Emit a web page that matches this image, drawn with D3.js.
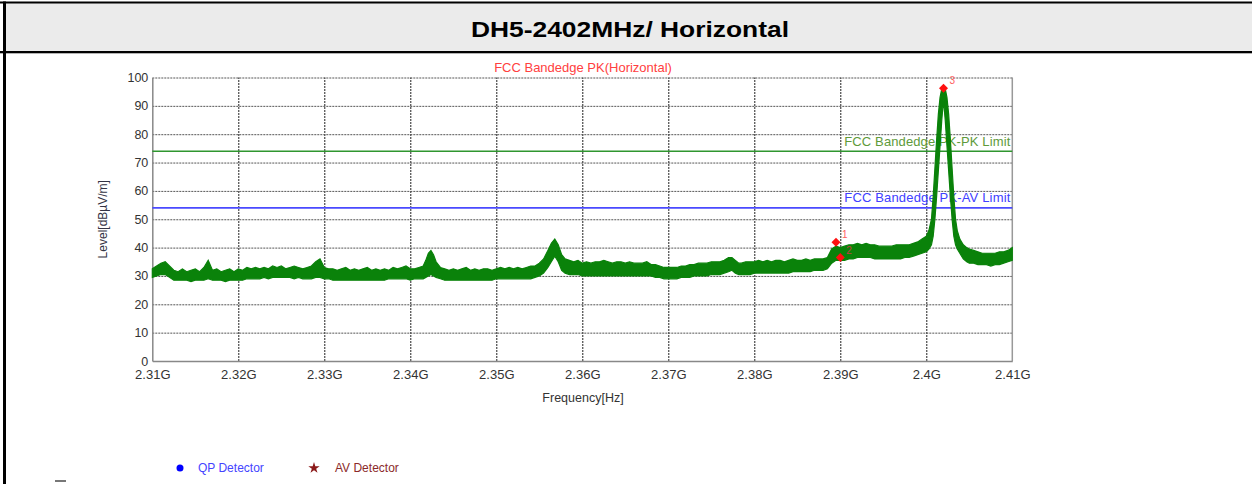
<!DOCTYPE html>
<html><head><meta charset="utf-8">
<script src="https://cdn.jsdelivr.net/npm/d3@7"></script>
<style>
html,body{margin:0;padding:0;background:#fff;}
svg{display:block;font-family:Arial,"Liberation Sans",sans-serif;}
</style></head><body>
<svg id="c" width="1252" height="484"></svg>
<script>
// ---- data ----
const pageTitle = "DH5-2402MHz/ Horizontal";
const chartTitle = "FCC Bandedge PK(Horizontal)";
const xTickValues = [2310,2320,2330,2340,2350,2360,2370,2380,2390,2400,2410];
const xTickLabels = ["2.31G","2.32G","2.33G","2.34G","2.35G","2.36G","2.37G","2.38G","2.39G","2.4G","2.41G"];
const yTickValues = [0,10,20,30,40,50,60,70,80,90,100];
const limitNames = ["FCC Bandedge PK-PK Limit","FCC Bandedge PK-AV Limit"];
const limitLevels = [74, 54];
const markerLabels = ["1","2","3"];
const markerFreqMHz = [2389.5, 2390.0, 2402.0];
const markerLevel = [41.9, 36.5, 96.2];
const legendNames = ["QP Detector","AV Detector"];

// trace envelope (frequency MHz, upper / lower level dBuV/m)
const freqMHz = [
2310,2310.5,2311,2311.5,2312,2312.5,2313,2313.5,2314,2314.5,2315,2315.5,2316,2316.5,2317,2317.5,2318,2318.5,2319,2319.5,
2320,2320.5,2321,2321.5,2322,2322.5,2323,2323.5,2324,2324.5,2325,2325.5,2326,2326.5,2327,2327.5,2328,2328.5,2329,2329.5,
2330,2330.5,2331,2331.5,2332,2332.5,2333,2333.5,2334,2334.5,2335,2335.5,2336,2336.5,2337,2337.5,2338,2338.5,2339,2339.5,
2340,2340.5,2341,2341.5,2341.8,2342.1,2342.4,2342.7,2343,2343.5,2344,2344.5,2345,2345.5,2346,2346.5,2347,2347.5,2348,2348.5,2349,2349.5,
2350,2350.5,2351,2351.5,2352,2352.5,2353,2353.5,2354,2354.5,2355,2355.5,2356,2356.4,2356.8,2357.2,2357.6,2358,2358.5,2359,2359.5,
2360,2360.5,2361,2361.5,2362,2362.5,2363,2363.5,2364,2364.5,2365,2365.5,2366,2366.5,2367,2367.5,2368,2368.5,2369,2369.5,
2370,2370.5,2371,2371.5,2372,2372.5,2373,2373.5,2374,2374.5,2375,2375.5,2376,2376.5,2377,2377.4,2377.8,2378.2,2378.5,2379,2379.5,
2380,2380.5,2381,2381.5,2382,2382.5,2383,2383.5,2384,2384.5,2385,2385.5,2386,2386.5,2387,2387.5,2388,2388.5,2389,2389.5,
2390,2390.5,2391,2391.5,2392,2392.5,2393,2393.5,2394,2394.5,2395,2395.5,2396,2396.5,2397,2397.5,2398,2398.5,2399,2399.5,
2400,2400.3,2400.6,2400.8,2401,2401.2,2401.4,2401.6,2401.8,2402,2402.2,2402.4,2402.6,2402.8,2403,2403.2,2403.4,2403.6,2403.9,2404.3,
2404.7,2405,2405.5,2406,2406.5,2407,2407.5,2408,2408.5,2409,2409.5,2410];
const upperLevel = [
32.5,33.5,34.5,35,33.5,32,31.5,32.5,31.5,32,32.5,31.5,33,35.5,32,32.5,31.5,32,32.5,31.5,
32.5,32,33,32.5,33,32.5,33,32.5,33.5,33,33.5,32.5,33,33.5,33,32.5,33,33.5,35,36,
33,32.5,32.5,32,32.5,33,32,32.5,32,32.5,33,32,32.5,32,32.5,32,33,32.5,33,33.5,
32.5,32.5,33,33.5,35.5,38,39,37.5,35,33,32.5,32,32.5,32,32.5,33,32,32.5,32,32.5,32.5,32,
32.5,33,32.5,33,32.5,33,32.5,33,33.5,33.5,34.5,36,39,41.5,43,41,37.5,36,35.5,35,35.5,
34.5,35,34.5,35,35,35.5,35,34.5,35,35,34.5,35,34.5,34.5,34.5,35,34,34,33.5,33,
33,33,33,33.5,33.5,34,34,34.5,34.5,34.5,35,35,35,35.5,36.5,36.5,35.5,34.5,34.5,35,35,
35,35.5,35,35.5,35,35.5,35.5,35,35.5,36,35.5,35.5,36,35.5,36,36,36,36.5,39.5,40.5,
40,40.5,41,41,41.5,41,41.5,41,41,40.5,40.5,40.5,40.5,41,41,41,41,41.5,42,43,
44,46,50,58,68,78,87,93,96,96.5,96,93,87,78,68,58,50,46,43,41,
40,39.5,39,38.5,38,38,38,38,38.5,38.5,39,40];
const lowerLevel = [
29.5,30,30.5,30.5,29.5,28.5,28.5,28.5,28.5,28,28.5,28.5,28.5,29,28.5,28.5,28.5,28,28.5,28.5,
28.5,28.5,29,29,29,29,29.5,29,29.5,29.5,29.5,29.5,29.5,29,29.5,29,29,29,29.5,29.5,
29,29,28.5,28.5,28.5,28.5,28.5,28.5,28.5,28.5,28.5,28.5,28.5,28.5,28.5,29,29,29,29,29,
28.5,29,29,29,29.5,30,30.5,30,29.5,29,28.5,28.5,28.5,28.5,28.5,28.5,28.5,28.5,28.5,28.5,28.5,28.5,
29,29,29,29,29,29,29,29,29,29.5,30,31,33,35,37,35,32,31,30.5,30.5,30.5,
30,30,30,30,30,30,30,30,30,30,30,30,30,30,30,30,30,29.5,29.5,29,
29,29,29,29.5,29.5,29.5,30,30,30,30,30.5,30.5,30.5,31,31.5,32,31,30.5,30.5,30.5,30.5,
31,31,31,31,31,31,31,31,31,31.5,31.5,31.5,31.5,31.5,32,32,32,32.5,34.5,35.5,
35.5,35.5,36,36,36.5,36.5,36.5,36.5,36,36,36,36,36,36,36,36.5,36.5,37,37.5,38,
38.5,39.5,41,44,50,58,67,76,85,92,85,76,67,58,50,44,41,39.5,38,36,
35,34.5,34.5,34,34,34,33.5,34,34,34.5,35,35.5];

// ---- layout ----
const W = 1252, H = 484;
const svg = d3.select("#c");
const x = d3.scaleLinear().domain([2310, 2410]).range([152.3, 1012.3]);
const y = d3.scaleLinear().domain([0, 100]).range([361, 77.5]);
const x0 = x.range()[0], x1 = x.range()[1], yTop = y(100), yBot = y(0);

// page frame + title band
svg.append("rect").attr("x",0).attr("y",0).attr("width",W).attr("height",H).attr("fill","#fff");
svg.append("rect").attr("x",3).attr("y",3).attr("width",W-3).attr("height",48).attr("fill","#ebebeb");
svg.append("rect").attr("x",0).attr("y",1.5).attr("width",W).attr("height",2).attr("fill","#000");
svg.append("rect").attr("x",0).attr("y",51).attr("width",W).attr("height",2.3).attr("fill","#000");
svg.append("rect").attr("x",3).attr("y",1.5).attr("width",3).attr("height",H).attr("fill","#000");
svg.append("text").attr("x",630).attr("y",37).attr("text-anchor","middle")
  .attr("font-size",22).attr("font-weight","bold").attr("fill","#000")
  .attr("textLength",318).attr("lengthAdjust","spacingAndGlyphs").text(pageTitle);

// grid
const g = svg.append("g");
g.append("g").attr("transform",`translate(0,${yBot})`)
  .call(d3.axisBottom(x).tickValues(xTickValues.slice(1,-1)).tickSize(-(yBot-yTop)).tickFormat(""))
  .call(s=>{s.select(".domain").remove(); s.selectAll("line").attr("stroke","#222").attr("stroke-dasharray","2,1");});
g.append("g").attr("transform",`translate(${x0},0)`)
  .call(d3.axisLeft(y).tickValues(yTickValues.slice(1)).tickSize(-(x1-x0)).tickFormat(""))
  .call(s=>{s.select(".domain").remove(); s.selectAll("line").attr("stroke","#555").attr("stroke-dasharray","2,1");});

// plot frame
g.append("line").attr("x1",x1).attr("x2",x1).attr("y1",yTop).attr("y2",yBot).attr("stroke","#999").attr("stroke-width",1.5);

// axes labels
const yAxis = g.append("g").attr("transform",`translate(${x0},0)`)
  .call(d3.axisLeft(y).tickValues(yTickValues).tickSize(0).tickPadding(4));
yAxis.select(".domain").attr("stroke","#888").attr("stroke-width",1.5);
yAxis.selectAll("text").attr("font-size",12.5).attr("fill","#333").attr("font-family","Arial");
const xAxis = g.append("g").attr("transform",`translate(0,${yBot})`)
  .call(d3.axisBottom(x).tickValues(xTickValues).tickSize(0).tickPadding(9).tickFormat((d,i)=>xTickLabels[i]));
xAxis.select(".domain").attr("stroke","#888").attr("stroke-width",1.5);
xAxis.selectAll("text").attr("font-size",13).attr("fill","#333").attr("font-family","Arial");

svg.append("text").attr("transform",`translate(107,${(yTop+yBot)/2}) rotate(-90)`)
  .attr("text-anchor","middle").attr("font-size",12).attr("fill","#334").text("Level[dBµV/m]");
svg.append("text").attr("x",583).attr("y",402).attr("text-anchor","middle")
  .attr("font-size",12.5).attr("fill","#333").text("Frequency[Hz]");
svg.append("text").attr("x",583).attr("y",72).attr("text-anchor","middle")
  .attr("font-size",13).attr("fill","#ff4040").text(chartTitle);

// limit lines
const limitColors = ["#2f962f","#4a4aff"];
const limitTextColors = ["#5e9a3a","#4040ff"];
limitLevels.forEach((lv,i)=>{
  g.append("line").attr("x1",x0).attr("x2",x1).attr("y1",y(lv)).attr("y2",y(lv))
    .attr("stroke",limitColors[i]).attr("stroke-width",1.6);
  g.append("text").attr("x",x1-2).attr("y",y(lv)-5.5).attr("text-anchor","end")
    .attr("font-size",13).attr("textLength",166).attr("fill",limitTextColors[i]).text(limitNames[i]);
});

// trace
const trace = freqMHz.map((f,i)=>({f, hi:upperLevel[i], lo:lowerLevel[i]}));
const area = d3.area().x(d=>x(d.f)).y0(d=>y(d.lo)).y1(d=>y(d.hi));
g.append("path").datum(trace).attr("d",area).attr("fill","#0a820a")
  .attr("stroke","#0a820a").attr("stroke-width",1.2).attr("stroke-linejoin","miter");

// markers
markerFreqMHz.forEach((f,i)=>{
  const cx = x(f), cy = y(markerLevel[i]);
  g.append("path").attr("d",d3.symbol(d3.symbolSquare, 40)()).attr("transform",`translate(${cx},${cy}) rotate(45)`)
    .attr("fill","#ff1010");
  g.append("text").attr("x",cx+6).attr("y",cy-4).attr("font-size",10)
    .attr("fill", i===1 ? "#c04040" : "#ff6060").text(markerLabels[i]);
});

// legend
svg.append("circle").attr("cx",180).attr("cy",468).attr("r",3.5).attr("fill","#0000ff");
svg.append("text").attr("x",198).attr("y",472).attr("font-size",12).attr("fill","#4444ff").text(legendNames[0]);
svg.append("path").attr("d",d3.symbol(d3.symbolStar, 40)()).attr("transform","translate(314,468)").attr("fill","#8b1a1a");
svg.append("text").attr("x",335).attr("y",472).attr("font-size",12).attr("fill","#8b2a2a").text(legendNames[1]);
svg.append("rect").attr("x",55).attr("y",480).attr("width",11).attr("height",2).attr("fill","#777");
</script>
</body></html>
